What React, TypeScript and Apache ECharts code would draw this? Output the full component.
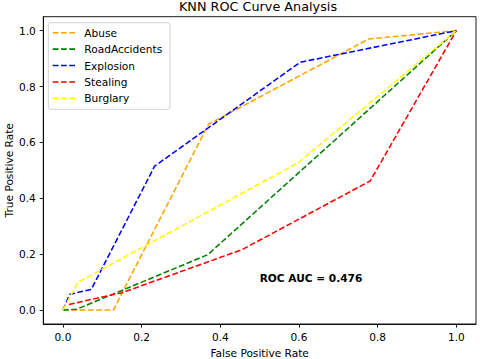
import React, { useEffect, useRef } from "react";
import * as echarts from "echarts";

const seriesNames = ["Abuse", "RoadAccidents", "Explosion", "Stealing", "Burglary"];
const seriesColors = ["#ffa500", "#008000", "#0000ff", "#ff0000", "#ffff00"];

const abuseFpr = [0, 0.128, 0.37, 0.777, 1];
const abuseTpr = [0, 0, 0.665, 0.97, 1];
const roadFpr = [0, 0.035, 0.368, 1];
const roadTpr = [0, 0.003, 0.198, 1];
const explosionFpr = [0, 0.017, 0.072, 0.233, 0.603, 1];
const explosionTpr = [0, 0.056, 0.074, 0.515, 0.887, 1];
const stealingFpr = [0.015, 0.15, 0.455, 0.781, 1];
const stealingTpr = [0.02, 0.062, 0.216, 0.462, 1];
const burglaryFpr = [0, 0.038, 0.598, 1];
const burglaryTpr = [0, 0.099, 0.527, 1];

const tickValues = [0, 0.2, 0.4, 0.6, 0.8, 1.0];
const aucText = "ROC AUC = 0.476";
const aucPos = [0.5, 0.1];

const allFpr = [abuseFpr, roadFpr, explosionFpr, stealingFpr, burglaryFpr];
const allTpr = [abuseTpr, roadTpr, explosionTpr, stealingTpr, burglaryTpr];

const FONT = "DejaVu Sans";
const FS = 10.6;

export default function App() {
  const ref = useRef<HTMLDivElement>(null);
  useEffect(() => {
    if (!ref.current) return;
    const chart = echarts.init(ref.current, null, { renderer: "svg" });
    const series = seriesNames.map((name, i) => ({
      name,
      type: "line",
      data: allFpr[i].map((x, j) => [x, allTpr[i][j]]),
      showSymbol: false,
      symbol: "none",
      lineStyle: { color: seriesColors[i], width: 1.55, type: [5.8, 2.5] },
      itemStyle: { color: seriesColors[i] },
      z: 2 + i,
    }));
    const axisCommon = {
      type: "value",
      min: -0.05,
      max: 1.05,
      splitLine: { show: false },
      axisLine: { show: true, onZero: false, lineStyle: { color: "#000", width: 0.9 } },
      axisTick: {
        show: true,
        inside: false,
        length: 3.6,
        customValues: tickValues,
        lineStyle: { color: "#000", width: 0.9 },
      },
      nameLocation: "middle",
      nameMoveOverlap: false,
      nameTextStyle: { fontFamily: FONT, fontSize: FS, color: "#000" },
    };
    const legendX = 48.3;
    const legendY = 22.7;
    const legendItems: any[] = [];
    seriesNames.forEach((name, i) => {
      const cy = 32.7 + i * 16.4;
      legendItems.push({
        type: "line",
        shape: { x1: 52.7, y1: cy, x2: 75, y2: cy },
        style: { stroke: seriesColors[i], lineWidth: 1.55, lineDash: [5.8, 2.5] },
        z: 101,
      });
      legendItems.push({
        type: "text",
        x: 84.3,
        y: cy,
        style: {
          text: name,
          fontFamily: FONT,
          fontSize: FS,
          fill: "#000",
          verticalAlign: "middle",
          align: "left",
        },
        z: 101,
      });
    });
    chart.setOption({
      animation: false,
      grid: {
        left: 43.3,
        right: 4,
        top: 16.7,
        bottom: 35,
        containLabel: false,
        outerBoundsMode: "none",
        show: true,
        borderColor: "#000",
        borderWidth: 0.9,
        backgroundColor: "transparent",
      },
      xAxis: {
        ...axisCommon,
        position: "bottom",
        name: "False Positive Rate",
        nameGap: 23,
        axisLabel: {
          customValues: tickValues,
          formatter: (v: number) => v.toFixed(1),
          fontFamily: FONT,
          fontSize: FS,
          color: "#000",
          margin: 7,
        },
      },
      yAxis: {
        ...axisCommon,
        position: "left",
        axisLabel: {
          customValues: tickValues,
          formatter: (v: number) => v.toFixed(1),
          fontFamily: FONT,
          fontSize: FS,
          color: "#000",
          margin: 7.5,
        },
      },
      series,
    });
    const [px, py] = chart.convertToPixel({ gridIndex: 0 }, aucPos) as number[];
    chart.setOption({
      graphic: [
        {
          type: "text",
          x: 258,
          y: 6.7,
          style: {
            text: "KNN ROC Curve Analysis",
            fontFamily: FONT,
            fontSize: 12.8,
            fill: "#000",
            align: "center",
            verticalAlign: "middle",
          },
        },
        {
          type: "text",
          x: 8.5,
          y: 170.3,
          rotation: Math.PI / 2,
          style: {
            text: "True Positive Rate",
            fontFamily: FONT,
            fontSize: FS,
            fill: "#000",
            align: "center",
            verticalAlign: "middle",
          },
        },
        {
          type: "text",
          x: px,
          y: py - 4.3,
          style: {
            text: aucText,
            fontFamily: FONT,
            fontSize: FS,
            fontWeight: "bold",
            fill: "#000",
            align: "left",
            verticalAlign: "middle",
          },
          z: 50,
        },
        {
          type: "rect",
          shape: { x: legendX, y: legendY, width: 121.7, height: 86.6, r: 2.5 },
          style: { fill: "rgba(255,255,255,0.8)", stroke: "#cccccc", lineWidth: 0.9 },
          z: 100,
        },
        ...legendItems,
      ],
    });
    return () => chart.dispose();
  }, []);
  return (
    <div
      ref={ref}
      style={{ position: "absolute", left: 0, top: 0, width: 480, height: 359, background: "#fff" }}
    />
  );
}
